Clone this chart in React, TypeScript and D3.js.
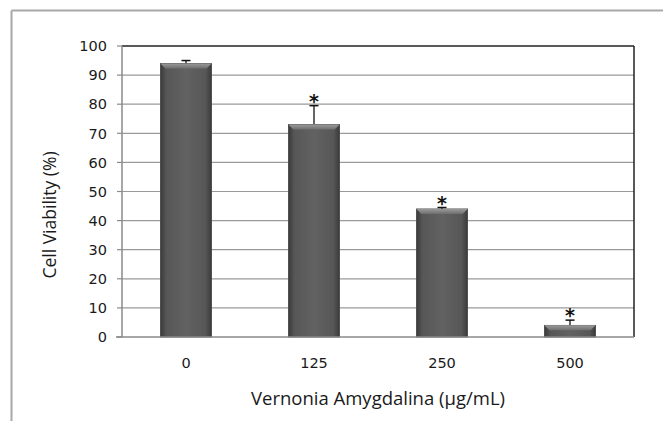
import React from "react";
import * as d3 from "d3";

const doses = ["0", "125", "250", "500"];
const viability = [94, 73, 44, 4];
const errors = [1, 6.5, 0.5, 1.8];
const significant = [false, true, true, true];
const yTicks = [0, 10, 20, 30, 40, 50, 60, 70, 80, 90, 100];

const W = 663;
const H = 421;
const plot = { left: 122, right: 634, top: 46, bottom: 337 };

export default function App() {
  const x = d3
    .scaleBand<string>()
    .domain(doses)
    .range([plot.left, plot.right])
    .paddingInner(0.6)
    .paddingOuter(0.3);
  const y = d3.scaleLinear().domain([0, 100]).range([plot.bottom, plot.top]);
  const bw = x.bandwidth();

  return (
    <div style={{ position: "absolute", left: 0, top: 0 }}>
      <svg width={W} height={H} style={{ display: "block", background: "#fff" }}>
        <defs>
          <linearGradient id="barBody" x1="0" x2="1" y1="0" y2="0">
            <stop offset="0" stopColor="#3a3a3a" />
            <stop offset="0.12" stopColor="#575757" />
            <stop offset="0.5" stopColor="#626262" />
            <stop offset="0.88" stopColor="#575757" />
            <stop offset="1" stopColor="#3a3a3a" />
          </linearGradient>
          <linearGradient id="barTop" x1="0" x2="0" y1="0" y2="1">
            <stop offset="0" stopColor="#9a9a9a" />
            <stop offset="1" stopColor="#6e6e6e" />
          </linearGradient>
        </defs>

        {/* outer frame */}
        <line x1={11.5} x2={11.5} y1={10.5} y2={H} stroke="#a8a8a8" strokeWidth={2} />
        <line x1={11.5} x2={W} y1={10.5} y2={10.5} stroke="#a8a8a8" strokeWidth={2} />

        {/* gridlines and y ticks */}
        {yTicks.map((t) => (
          <g key={t}>
            {t > 0 && t < 100 && (
              <line x1={plot.left} x2={plot.right} y1={y(t)} y2={y(t)} stroke="#9a9a9a" strokeWidth={1.2} />
            )}
            <line x1={plot.left - 5} x2={plot.left} y1={y(t)} y2={y(t)} stroke="#8a8a8a" strokeWidth={1.2} />
            <text
              x={plot.left - 15}
              y={y(t)}
              dy="0.36em"
              textAnchor="end"
              fontFamily="DejaVu Sans, Verdana, sans-serif"
              fontSize={14.5}
              fill="#1a1a1a"
            >
              {t}
            </text>
          </g>
        ))}

        {/* plot border: black top/right, gray left/bottom */}
        <line x1={plot.left} x2={plot.right} y1={plot.top} y2={plot.top} stroke="#222" strokeWidth={1.5} />
        <line x1={plot.right} x2={plot.right} y1={plot.top} y2={plot.bottom} stroke="#222" strokeWidth={1.5} />
        <line x1={plot.left} x2={plot.left} y1={plot.top} y2={plot.bottom} stroke="#8a8a8a" strokeWidth={1.5} />

        {/* bars */}
        {doses.map((d, i) => {
          const x0 = x(d)!;
          const yt = y(viability[i]);
          const h = plot.bottom - yt;
          const bev = Math.min(5, h / 2);
          const cx = x0 + bw / 2;
          const errTop = y(viability[i] + errors[i]);
          return (
            <g key={d}>
              <line x1={cx} x2={cx} y1={yt} y2={errTop} stroke="#111" strokeWidth={1.3} />
              <line x1={cx - 4.5} x2={cx + 4.5} y1={errTop} y2={errTop} stroke="#111" strokeWidth={1.5} />
              <rect x={x0} y={yt} width={bw} height={h} fill="url(#barBody)" stroke="#444" strokeWidth={0.8} />
              <polygon
                points={`${x0},${yt} ${x0 + bw},${yt} ${x0 + bw - 5},${yt + bev} ${x0 + 5},${yt + bev}`}
                fill="url(#barTop)"
              />
              {significant[i] && (
                <text
                  x={cx}
                  y={errTop + 2}
                  textAnchor="middle"
                  fontFamily="DejaVu Sans, sans-serif"
                  fontWeight="bold"
                  fontSize={19}
                  fill="#111"
                >
                  *
                </text>
              )}
              <text
                x={cx}
                y={368}
                textAnchor="middle"
                fontFamily="DejaVu Sans, Verdana, sans-serif"
                fontSize={14.5}
                fill="#1a1a1a"
              >
                {d}
              </text>
            </g>
          );
        })}

        {/* bottom axis */}
        <line x1={plot.left - 6} x2={plot.right} y1={plot.bottom} y2={plot.bottom} stroke="#8a8a8a" strokeWidth={1.5} />

        {/* titles */}
        <text
          transform={`translate(56, ${(145 + 285) / 2}) rotate(-90)`}
          textAnchor="middle"
          fontFamily="Open Sans, sans-serif"
          fontSize={17.5}
          fill="#1a1a1a"
        >
          Cell Viability (%)
        </text>
        <text
          x={(249 + 507) / 2}
          y={405}
          textAnchor="middle"
          fontFamily="Open Sans, sans-serif"
          fontSize={18.5}
          fill="#1a1a1a"
        >
          Vernonia Amygdalina (µg/mL)
        </text>
      </svg>
    </div>
  );
}
